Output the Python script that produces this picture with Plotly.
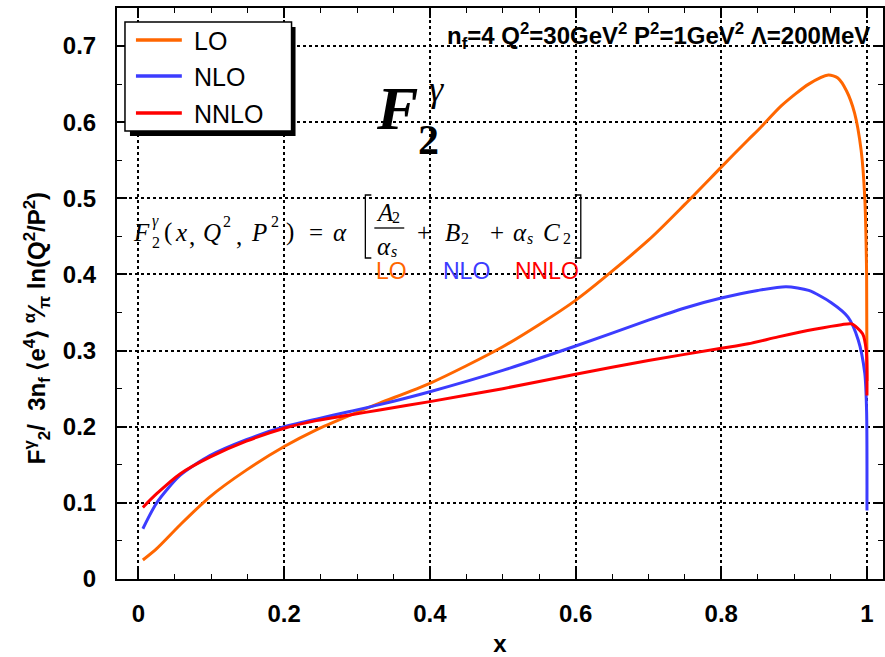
import plotly.graph_objects as go

# ---- data ----
x_lo = [0.006, 0.025, 0.057, 0.098, 0.148, 0.2, 0.244, 0.29, 0.331, 0.4, 0.5, 0.6, 0.7, 0.75, 0.8,
        0.837, 0.851, 0.883, 0.92, 0.947, 0.96, 0.972, 0.983, 0.992, 0.997, 0.9995, 1.0]
y_lo = [0.025, 0.040, 0.071, 0.108, 0.143, 0.174, 0.196, 0.215, 0.231, 0.257, 0.305, 0.366, 0.445, 0.492, 0.541,
        0.577, 0.590, 0.622, 0.650, 0.662, 0.658, 0.641, 0.612, 0.563, 0.50, 0.40, 0.26]

x_nlo = [0.006, 0.025, 0.057, 0.098, 0.148, 0.2, 0.244, 0.29, 0.331, 0.4, 0.5, 0.6, 0.7, 0.75, 0.8,
         0.85, 0.889, 0.92, 0.951, 0.974, 0.988, 0.997, 0.9995, 1.0]
y_nlo = [0.066, 0.100, 0.136, 0.162, 0.183, 0.200, 0.210, 0.220, 0.229, 0.246, 0.274, 0.306, 0.340, 0.356, 0.369,
         0.379, 0.384, 0.379, 0.363, 0.344, 0.314, 0.27, 0.22, 0.09]

x_nnlo = [0.006, 0.025, 0.057, 0.098, 0.148, 0.2, 0.244, 0.29, 0.331, 0.4, 0.5, 0.6, 0.7, 0.8,
          0.837, 0.878, 0.928, 0.965, 0.979, 0.994, 0.999, 1.0]
y_nnlo = [0.094, 0.112, 0.138, 0.160, 0.181, 0.198, 0.208, 0.2155, 0.222, 0.233, 0.250, 0.269, 0.287, 0.303,
          0.309, 0.318, 0.328, 0.334, 0.335, 0.322, 0.30, 0.241]

series_names = ["LO", "NLO", "NNLO"]
series_colors = ["#FF6600", "#3C3CFF", "#FF0000"]

x_ticks = [0, 0.2, 0.4, 0.6, 0.8, 1]
x_tick_labels = ["0", "0.2", "0.4", "0.6", "0.8", "1"]
y_ticks = [0, 0.1, 0.2, 0.3, 0.4, 0.5, 0.6, 0.7]
y_tick_labels = ["0", "0.1", "0.2", "0.3", "0.4", "0.5", "0.6", "0.7"]

# ---- layout geometry (pixels) ----
W, H = 885, 657
L, R, T, B = 117, 0, 8, 78
PW, PH = W - L - R, H - T - B


def px(x):
    return (x - L) / PW


def py(y):
    return (H - B - y) / PH


fig = go.Figure()
for xs, ys, name, col in zip([x_lo, x_nlo, x_nnlo], [y_lo, y_nlo, y_nnlo], series_names, series_colors):
    fig.add_trace(go.Scatter(x=xs, y=ys, mode="lines", name=name, showlegend=False,
                             line=dict(color=col, width=3, shape="spline", smoothing=0.7)))

tickfont = dict(family="Liberation Sans", size=24, color="black", weight="bold")
axis_common = dict(showline=True, linecolor="black", linewidth=2, mirror="ticks",
                   ticks="inside", ticklen=10, tickwidth=1.5, tickcolor="black",
                   showgrid=True, gridcolor="black", gridwidth=1.5, griddash="dot",
                   zeroline=False, tickfont=tickfont,
                   minor=dict(ticks="inside", ticklen=5, tickwidth=1.2, tickcolor="black", showgrid=False))

fig.update_xaxes(range=[-0.0295, 1.022], tickvals=x_ticks, ticktext=x_tick_labels,
                 minor_dtick=0.05, ticklabelstandoff=12,
                 title=dict(text="<b>x</b>", font=dict(family="Liberation Sans", size=24, color="black"), standoff=10),
                 **axis_common)
fig.update_yaxes(range=[0, 0.75], tickvals=y_ticks, ticktext=y_tick_labels,
                 minor_dtick=0.05, ticklabelstandoff=14, **axis_common)

ann = []
# y-axis title
ann.append(dict(x=px(37), y=py(328),
                text="<b>F<sup>γ</sup><sub>2</sub>/  3n<sub>f</sub> ⟨e<sup>4</sup>⟩ <sup>α</sup>⁄<sub>π</sub> ln(Q<sup>2</sup>/P<sup>2</sup>)</b>",
                textangle=-90, font=dict(family="Liberation Sans", size=24, color="black")))
# top-right text
ann.append(dict(x=px(874), y=py(36), xanchor="right",
                text="<b>n<sub>f</sub>=4 Q<sup>2</sup>=30GeV<sup>2</sup> P<sup>2</sup>=1GeV<sup>2</sup> Λ=200MeV</b>",
                font=dict(family="Liberation Sans", size=24, color="black")))
# big F2^gamma
serif = "Liberation Serif"
ann.append(dict(x=px(398), y=py(108), text="<b><i>F</i></b>", font=dict(family=serif, size=62, color="black")))
ann.append(dict(x=px(437), y=py(89), text="<i>γ</i>", font=dict(family=serif, size=36, color="black")))
ann.append(dict(x=px(429), y=py(140), text="<b>2</b>", font=dict(family=serif, size=42, color="black")))

# formula, token by token
ffont = dict(family=serif, size=25, color="black")
sfont = dict(family=serif, size=16, color="black")
yc = 232
tokens = [
    (142, yc, "<i>F</i>", ffont), (156, yc - 11, "<i>γ</i>", sfont), (156, yc + 10, "2", sfont),
    (168, yc, "(", ffont), (181, yc, "<i>x</i>", ffont), (192, yc + 4, ",", ffont),
    (212, yc, "<i>Q</i>", ffont), (227, yc - 11, "2", sfont), (239, yc + 4, ",", ffont),
    (259, yc, "<i>P</i>", ffont), (275, yc - 11, "2", sfont), (290, yc, ")", ffont),
    (317, yc, "=", ffont), (341, yc, "<i>α</i>", ffont),
    (386, yc - 19, "<i>A</i>", ffont), (397, yc - 14, "2", sfont),
    (385, yc + 14, "<i>α</i>", ffont), (395, yc + 19, "<i>s</i>", sfont),
    (425, yc, "+", ffont), (453, yc, "<i>B</i>", ffont), (466, yc + 6, "2", sfont),
    (498, yc, "+", ffont), (521, yc, "<i>α</i>", ffont), (531, yc + 6, "<i>s</i>", sfont),
    (553, yc, "<i>C</i>", ffont), (568, yc + 6, "2", sfont),
]
for x, y, t, f in tokens:
    ann.append(dict(x=px(x), y=py(y), text=t, font=f))

lab_font = "Liberation Sans"
ann += [
    dict(x=px(392), y=py(271), text="LO", font=dict(family=lab_font, size=23, color=series_colors[0])),
    dict(x=px(467), y=py(271), text="NLO", font=dict(family=lab_font, size=23, color=series_colors[1])),
    dict(x=px(548), y=py(271), text="NNLO", font=dict(family=lab_font, size=23, color=series_colors[2])),
]

shapes = []
# brackets and fraction bar
bl = dict(color="black", width=1.3)
shapes += [
    dict(type="path", xref="paper", yref="paper",
         path=f"M {px(372)},{py(195)} L {px(366)},{py(195)} L {px(366)},{py(258)} L {px(372)},{py(258)}", line=bl),
    dict(type="path", xref="paper", yref="paper",
         path=f"M {px(576)},{py(195)} L {px(582)},{py(195)} L {px(582)},{py(258)} L {px(576)},{py(258)}", line=bl),
    dict(type="line", xref="paper", yref="paper", x0=px(375), x1=px(405), y0=py(228), y1=py(228), line=bl),
]
# legend: shadow, box, sample lines, labels
shapes.append(dict(type="rect", xref="paper", yref="paper", x0=px(130), x1=px(296), y0=py(136), y1=py(27),
                   fillcolor="black", line=dict(width=0), layer="above"))
shapes.append(dict(type="rect", xref="paper", yref="paper", x0=px(125), x1=px(292), y0=py(131), y1=py(22),
                   fillcolor="white", line=dict(color="black", width=1.5), layer="above"))
leg_y = [40, 76, 113]
for yy, name, col in zip(leg_y, series_names, series_colors):
    shapes.append(dict(type="line", xref="paper", yref="paper", x0=px(136), x1=px(182), y0=py(yy), y1=py(yy),
                       line=dict(color=col, width=3.5), layer="above"))
    ann.append(dict(x=px(192), y=py(yy + 1), xanchor="left", text=name,
                    font=dict(family=lab_font, size=25, color="black")))

for a in ann:
    a.setdefault("xref", "paper")
    a.setdefault("yref", "paper")
    a.setdefault("showarrow", False)
    a.setdefault("xanchor", "center")
    a.setdefault("yanchor", "middle")

fig.update_layout(
    width=W, height=H, margin=dict(l=L, r=R, t=T, b=B),
    paper_bgcolor="white", plot_bgcolor="white",
    annotations=ann, shapes=shapes, showlegend=False,
)

fig.write_html("out.html")
